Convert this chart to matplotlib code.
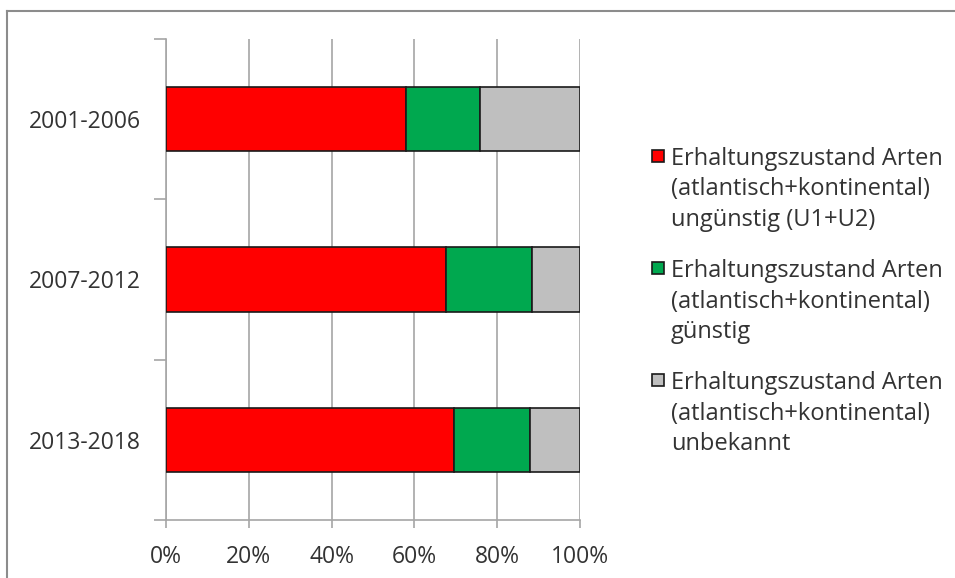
import numpy as np
import matplotlib.pyplot as plt
from matplotlib.patches import Rectangle
from matplotlib.legend_handler import HandlerPatch
from matplotlib.lines import Line2D

plt.rcParams['font.family'] = ['Open Sans', 'DejaVu Sans']

# Data (share of species, %)
periods = ['2001-2006', '2007-2012', '2013-2018']
unguenstig = [58.0, 67.6, 69.6]
guenstig = [17.8, 20.7, 18.3]
unbekannt = [24.2, 11.7, 12.1]
labels = ['Erhaltungszustand Arten\n(atlantisch+kontinental)\nungünstig (U1+U2)',
          'Erhaltungszustand Arten\n(atlantisch+kontinental)\ngünstig',
          'Erhaltungszustand Arten\n(atlantisch+kontinental)\nunbekannt']
colors = ['#ff0000', '#00a84f', '#bfbfbf']
xticks = [0, 20, 40, 60, 80, 100]

W, H = 955, 578
fig = plt.figure(figsize=(W / 100, H / 100), dpi=100)
ax = fig.add_axes([166 / W, (H - 520) / H, (580 - 166) / W, (520 - 39) / H])

y = np.arange(len(periods))
left = np.zeros(len(periods))
bars = []
for vals, c in zip([unguenstig, guenstig, unbekannt], colors):
    b = ax.barh(y, vals, left=left, height=0.4, color=c, edgecolor='#1a1a1a',
                linewidth=1.2, zorder=3)
    bars.append(b)
    left = left + np.array(vals)

ax.set_xlim(0, 100)
ax.set_ylim(len(periods) - 0.5, -0.5)
ax.set_xticks(xticks)
ax.set_xticklabels([f'{v}%' for v in xticks])
ax.set_yticks(y)
ax.set_yticklabels(periods)
ax.set_yticks(np.arange(len(periods) + 1) - 0.5, minor=True)

grid_c = '#a6a6a6'
ax.grid(axis='x', color=grid_c, linewidth=1.2, zorder=0)
for s in ['top', 'right']:
    ax.spines[s].set_visible(False)
for s in ['left', 'bottom']:
    ax.spines[s].set_color(grid_c)
    ax.spines[s].set_linewidth(1.2)

ax.tick_params(axis='y', which='major', length=0, pad=18, labelsize=16.5, labelcolor='#333333')
ax.tick_params(axis='y', which='minor', length=8.5, width=1.2, color=grid_c)
ax.tick_params(axis='x', length=6, width=1.2, color=grid_c, pad=12, labelsize=16.5,
               labelcolor='#333333')

# legend: square aligned to first line of each entry
def top_square(legend, orig_handle, xdescent, ydescent, width, height, fontsize):
    size = 8.6
    return Rectangle((-xdescent, 26.5), size, size)

handler = HandlerPatch(patch_func=top_square)
leg = fig.legend([b[0] for b in bars], labels, loc='upper left',
                 bbox_to_anchor=(652 / W, 1 - 147 / H), frameon=False,
                 fontsize=17, handlelength=0.5, handleheight=0.7,
                 handletextpad=0.3, labelspacing=1.15, borderpad=0,
                 borderaxespad=0,
                 handler_map={b[0]: handler for b in bars})
for t in leg.get_texts():
    t.set_linespacing(1.36)
    t.set_color('#333333')
for h in leg.legend_handles:
    h.set_edgecolor('#1a1a1a')
    h.set_linewidth(1.2)

# chart area border (top and left visible)
border_c = '#8c8c8c'
fig.add_artist(Line2D([7 / W, 7 / W], [0, 1 - 11 / H], color=border_c, linewidth=1.5))
fig.add_artist(Line2D([7 / W, 1], [1 - 11 / H, 1 - 11 / H], color=border_c, linewidth=1.5))

fig.savefig('out.png', dpi=100)
